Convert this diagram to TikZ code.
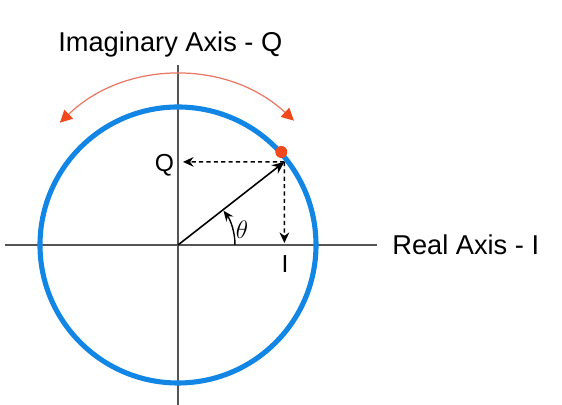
\documentclass[tikz,border=0pt]{standalone}
\usepackage{fontspec}
\setmainfont{Liberation Sans}
\usetikzlibrary{arrows.meta, positioning, calc}
\definecolor{circleblue}{RGB}{18,134,228}
\definecolor{arcred}{RGB}{232,120,100}
\definecolor{tipred}{RGB}{242,72,30}
\definecolor{axisgray}{RGB}{85,85,85}

\begin{document}
\begin{tikzpicture}[
  x=0.02cm, y=0.02cm,
  axis/.style={draw=axisgray, line width=1.1pt},
  unitcircle/.style={draw=circleblue, line width=2.9pt},
  vector/.style={-{Stealth[length=7pt, width=6pt]}, line width=0.9pt},
  proj/.style={-{Stealth[length=6pt, width=5.5pt]}, line width=0.85pt, dash pattern=on 2.4pt off 1.8pt},
  swing/.style={draw=arcred, line width=0.7pt, {Triangle[length=7pt, width=7pt, color=tipred]}-{Triangle[length=7pt, width=7pt, color=tipred]}},
  axislabel/.style={font=\fontsize{15.5}{18}\selectfont, inner sep=0pt},
  complabel/.style={font=\fontsize{14}{16}\selectfont, inner sep=0pt},
  phasor/.style={circle, fill=tipred, minimum size=0.24cm, inner sep=0pt}
]
\useasboundingbox (0,0) rectangle (562,405);

% Axes
\coordinate (O) at (178,160);
\coordinate (xl) at (5,160);
\coordinate (xr) at (377,160);
\coordinate (yb) at (178,0);
\coordinate (yt) at (178,340);
\draw[axis] (xl) -- (xr);
\draw[axis] (yb) -- (yt);

% Unit circle and swing arc
\draw[unitcircle] (O) circle[radius=138];
\draw[swing] ($(O)+(47:170)$) arc[start angle=47, end angle=134, radius=170];

% Phasor
\coordinate (P) at ($(O)+(38:135)$);
\draw[vector] (O) -- (P);
\node[phasor] (dot) at ($(O)+(42:139)$) {};

% Projections
\coordinate (Qend) at (183,243.1);
\coordinate (Iend) at (284.4,162);
\draw[proj] (P) -- (Qend);
\draw[proj] (P) -- (Iend);

% Angle
\draw[-{Stealth[length=6pt, width=5pt]}, line width=0.8pt] ($(O)+(0:57)$) arc[start angle=0, end angle=37, radius=57];
\node[font=\fontsize{14}{16}\selectfont] (thetalbl) at (242,175) {$\theta$};

% Labels
\node[axislabel, anchor=base west] (imaglbl) at (58,353) {Imaginary Axis - Q};
\node[axislabel, anchor=base west] (reallbl) at (392,150) {Real Axis - I};
\node[complabel, anchor=base] (qlbl) at (164.5,233) {Q};
\node[complabel, anchor=base] (ilbl) at (285,132) {I};
\end{tikzpicture}
\end{document}
